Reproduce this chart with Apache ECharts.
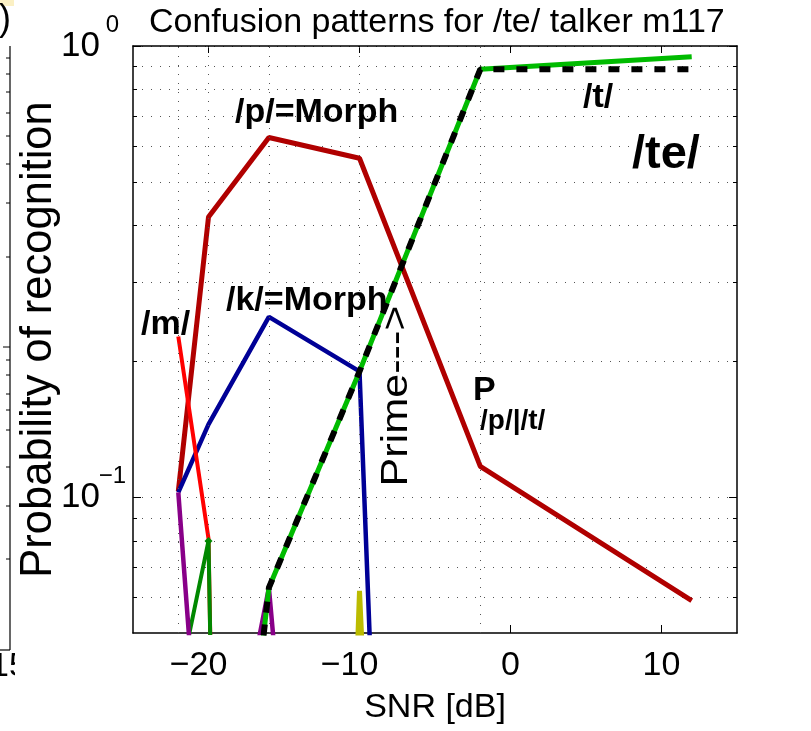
<!DOCTYPE html>
<html>
<head>
<meta charset="utf-8">
<script src="https://cdn.jsdelivr.net/npm/echarts@6/dist/echarts.min.js"></script>
<style>html,body{margin:0;padding:0;background:#fff}#c{width:811px;height:731px}</style>
</head>
<body>
<div id="c"></div>
<script>
// ---- data ----
const snr = [-22, -20, -16, -10, -2, 12];
const pMorph = [0.103, 0.418, 0.627, 0.564, 0.117, 0.059];      // dark red  /p/
const kMorph = [0.1025, 0.145, 0.251, 0.190, 2e-8, 2e-8];       // navy      /k/
const mProb = [0.227, 0.081, 3e-9, 3e-9, 3e-9, 3e-9];           // red       /m/
const gProb = [0.038, 0.080, 3e-9, 3e-9, 3e-9, 3e-9];           // dark green
const vProb = [0.1025, 0.013, 0.063, 3.5e-4, 3.5e-4, 3.5e-4];   // purple
const yProb = [1e-7, 1e-7, 1e-7, 0.062, 1e-7, 1e-7];            // olive
const tPrime = [1e-4, 0.004, 0.063, 0.190, 0.888, 0.947];       // bright green
const tMain = [1e-4, 0.004, 0.063, 0.190, 0.888, 0.888];        // black dashed /t/

const xTicks = [-20, -10, 0, 10];
const xGrid = [-22, -20, -16, -10, -2];
const yMajor = [0.1, 1];
const yMinor = [0.06, 0.07, 0.08, 0.09, 0.2, 0.3, 0.4, 0.5, 0.6, 0.7, 0.8, 0.9];

const FONT = '"Liberation Sans", Arial, Helvetica, sans-serif';
const pairs = arr => snr.map((x, i) => [x, arr[i]]);

const dotted = { color: '#555', width: 1, type: [1, 8] };
const frame = { show: true, onZero: false, lineStyle: { color: '#000', width: 1.5 } };
const noLine = { show: false, onZero: false };

function yAxisDef(pos, ticks, len, opts) {
  return Object.assign({
    type: 'log', position: pos, min: 0.05, max: 1, logBase: 10,
    axisLine: noLine,
    axisTick: { show: true, inside: true, length: len, customValues: ticks, lineStyle: { color: '#000', width: 1 } },
    axisLabel: { show: false },
    splitLine: { show: false }
  }, opts || {});
}

const option = {
  animation: false,
  backgroundColor: '#fff',
  title: {
    text: 'Confusion patterns for /te/ talker m117',
    left: 144, top: 1,
    textStyle: { fontFamily: FONT, fontSize: 34, fontWeight: 'normal', color: '#000' }
  },
  grid: { left: 133, right: 74, top: 46, bottom: 98, containLabel: false, outerBoundsMode: 'none' },
  xAxis: [
    {
      type: 'value', position: 'bottom', min: -25, max: 15,
      name: 'SNR [dB]', nameLocation: 'middle', nameGap: 58, nameMoveOverlap: false,
      nameTextStyle: { fontFamily: FONT, fontSize: 34, color: '#000' },
      axisLine: frame,
      axisTick: { show: true, inside: true, length: 8, customValues: xTicks, lineStyle: { color: '#000' } },
      axisLabel: {
        customValues: xTicks, margin: 16, color: '#000', fontFamily: FONT, fontSize: 34,
        formatter: v => v < 0 ? '{n|\u2212' + (-v) + '}' : String(v),
        rich: { n: { fontFamily: FONT, fontSize: 34, color: '#000', padding: [0, 20, 0, 0] } }
      },
      splitLine: { show: false }
    },
    {
      type: 'value', position: 'top', min: -25, max: 15,
      axisLine: frame,
      axisTick: { show: true, inside: true, length: 7, customValues: xTicks, lineStyle: { color: '#000' } },
      axisLabel: { show: false },
      splitLine: { show: false }
    }
  ],
  yAxis: [
    yAxisDef('left', yMajor, 8, {
      name: 'Probability of recognition', nameLocation: 'middle', nameGap: 72, nameRotate: 90,
      nameMoveOverlap: false,
      nameTextStyle: { fontFamily: FONT, fontSize: 43.5, color: '#000' },
      axisLine: frame,
      axisLabel: {
        show: true, customValues: yMajor, margin: 8, align: 'right',
        formatter: v => { const e = Math.round(Math.log10(v)); return '{b|10}{s|' + (e < 0 ? '\u2212' + (-e) : e) + '}'; },
        rich: {
          b: { fontFamily: FONT, fontSize: 35, color: '#000' },
          s: { fontFamily: FONT, fontSize: 24, color: '#000', width: 25, align: 'left', padding: [0, 0, 42, 0] }
        }
      },
      splitLine: { show: true, lineStyle: dotted }
    }),
    yAxisDef('left', yMinor, 4, { splitLine: { show: true, lineStyle: dotted } }),
    yAxisDef('right', yMajor, 8, { axisLine: frame }),
    yAxisDef('right', yMinor, 4)
  ],
  series: [
    { name: 'grid', type: 'line', data: [], silent: true, z: 1,
      markLine: { silent: true, symbol: ['none', 'none'], label: { show: false },
        lineStyle: dotted, emphasis: { disabled: true },
        data: xGrid.map(x => ({ xAxis: x })) } },
    { name: '/p/', type: 'line', data: pairs(pMorph), showSymbol: false, symbol: 'none',
      lineStyle: { color: '#b00000', width: 5 }, z: 2 },
    { name: '/k/', type: 'line', data: pairs(kMorph), showSymbol: false, symbol: 'none',
      lineStyle: { color: '#000096', width: 4.5 }, z: 3 },
    { name: '/m/', type: 'line', data: pairs(mProb), showSymbol: false, symbol: 'none',
      lineStyle: { color: '#ff0000', width: 4 }, z: 4 },
    { name: 'green', type: 'line', data: pairs(gProb), symbol: 'diamond', symbolSize: 8,
      itemStyle: { color: '#008800' }, lineStyle: { color: '#008800', width: 4 }, z: 5 },
    { name: 'purple', type: 'line', data: pairs(vProb), showSymbol: false, symbol: 'none',
      lineStyle: { color: '#880088', width: 4.5 }, z: 6 },
    { name: 'olive', type: 'line', data: pairs(yProb), showSymbol: false, symbol: 'none',
      lineStyle: { color: '#bbbb00', width: 5 }, z: 7 },
    { name: 'prime', type: 'line', data: pairs(tPrime), showSymbol: false, symbol: 'none',
      lineStyle: { color: '#00bb00', width: 5 }, z: 8 },
    { name: '/t/', type: 'line', data: pairs(tMain), showSymbol: false, symbol: 'none',
      lineStyle: { color: '#000', width: 6, type: [11, 12] }, z: 9 }
  ],
  graphic: [
    // fragment of the neighbouring panel on the left edge
    { type: 'rect', shape: { x: 0, y: 0, width: 14, height: 6 }, style: { fill: '#fbf0c4' }, silent: true },
    { type: 'text', x: -1, y: 38, style: { text: ')', font: '36px ' + FONT, fill: '#000', verticalAlign: 'bottom' }, silent: true },
    { type: 'line', shape: { x1: 10, y1: 46, x2: 10, y2: 650 }, style: { stroke: '#000', lineWidth: 1.2 }, silent: true },
    { type: 'line', shape: { x1: 0, y1: 650, x2: 10, y2: 650 }, style: { stroke: '#000', lineWidth: 1.2 }, silent: true },
    ...[58, 74, 92, 113, 136, 164, 203, 257, 360, 375, 394, 410, 430, 467, 506, 559].map(y => ({
      type: 'line', shape: { x1: 6, y1: y, x2: 10, y2: y }, style: { stroke: '#000', lineWidth: 1 }, silent: true })),
    { type: 'line', shape: { x1: 3, y1: 347, x2: 10, y2: 347 }, style: { stroke: '#000', lineWidth: 1 }, silent: true },
    { type: 'text', x: -10, y: 667, style: { text: '15', font: '34px ' + FONT, fill: '#000', verticalAlign: 'middle' }, silent: true },
    { type: 'rect', shape: { x: 15, y: 651, width: 30, height: 36 }, style: { fill: '#fff' }, silent: true, z: 50 },

    // annotations
    { type: 'text', x: 235, y: 113, style: { text: '/p/=Morph', font: 'bold 34px ' + FONT, fill: '#000', verticalAlign: 'middle' }, z: 100 },
    { type: 'text', x: 226, y: 301, style: { text: '/k/=Morph', font: 'bold 34px ' + FONT, fill: '#000', verticalAlign: 'middle' }, z: 100 },
    { type: 'text', x: 141, y: 325, style: { text: '/m/', font: 'bold 34px ' + FONT, fill: '#000', verticalAlign: 'middle' }, z: 100 },
    { type: 'text', x: 583, y: 98, style: { text: '/t/', font: 'bold 34px ' + FONT, fill: '#000', verticalAlign: 'middle' }, z: 100 },
    { type: 'text', x: 632, y: 155, style: { text: '/te/', font: 'bold 47px ' + FONT, fill: '#000', verticalAlign: 'middle' }, z: 100 },
    { type: 'text', x: 473, y: 391, style: { text: 'P', font: 'bold 34px ' + FONT, fill: '#000', verticalAlign: 'middle' }, z: 100 },
    { type: 'text', x: 480, y: 421, style: { text: '/p/|/t/', font: 'bold 28px ' + FONT, fill: '#000', verticalAlign: 'middle' }, z: 100 },
    { type: 'text', x: 397, y: 396, rotation: Math.PI / 2, scaleX: 1.2,
      style: { text: 'Prime--->', font: '36px ' + FONT, fill: '#000', align: 'center', verticalAlign: 'middle' }, z: 100 }
  ]
};

const chart = echarts.init(document.getElementById('c'), null, { renderer: 'canvas' });
chart.setOption(option);
</script>
</body>
</html>
